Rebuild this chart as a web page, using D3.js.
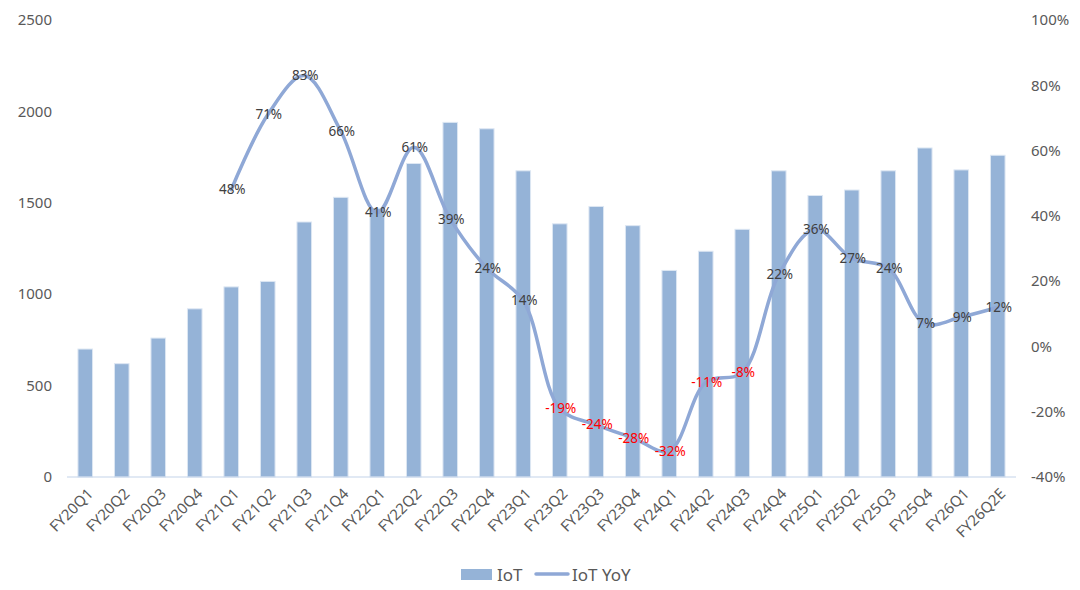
<!DOCTYPE html>
<html>
<head>
<meta charset="utf-8">
<script src="https://cdn.jsdelivr.net/npm/d3@7"></script>
<style>
  body { margin: 0; background: #fff; }
  svg { font-family: "Noto Sans", "Open Sans", sans-serif; }
</style>
</head>
<body>
<div id="chart"></div>
<script>
(function chart() {

    // Data
    const quarters = ["FY20Q1", "FY20Q2", "FY20Q3", "FY20Q4",
        "FY21Q1", "FY21Q2", "FY21Q3", "FY21Q4",
        "FY22Q1", "FY22Q2", "FY22Q3", "FY22Q4",
        "FY23Q1", "FY23Q2", "FY23Q3", "FY23Q4",
        "FY24Q1", "FY24Q2", "FY24Q3", "FY24Q4",
        "FY25Q1", "FY25Q2", "FY25Q3", "FY25Q4",
        "FY26Q1", "FY26Q2E"];
    const iotRevenue = [700, 620, 760, 920,
        1040, 1070, 1395, 1530,
        1470, 1715, 1940, 1905,
        1675, 1385, 1480, 1375,
        1130, 1235, 1355, 1675,
        1540, 1570, 1675, 1800,
        1680, 1760];
    // YoY starts at FY21Q1
    const yoyQuarters = quarters.slice(4);
    const iotYoY = [48, 71, 83, 66,
        41, 61, 39, 24,
        14, -19, -24, -28,
        -32, -11, -8, 22,
        36, 27, 24, 7,
        9, 12];
    const leftTicks = [0, 500, 1000, 1500, 2000, 2500];
    const rightTicks = [-40, -20, 0, 20, 40, 60, 80, 100];

    const WIDTH = 1080;
    const HEIGHT = 590;
    const BAR_COLOR = "#95b3d7";
    const LINE_COLOR = "#8fa8d6";
    const TEXT_COLOR = "#595959";

    const svg = d3.select("#chart").append("svg")
        .attr("width", WIDTH)
        .attr("height", HEIGHT);

    const x = d3.scaleBand()
        .domain(quarters)
        .range([67, 1016])
        .paddingInner(0.6)
        .paddingOuter(0.3);

    const yLeft = d3.scaleLinear().domain([0, 2500]).range([477, 20]);
    const yRight = d3.scaleLinear().domain([-40, 100]).range([477, 20]);

    // left axis labels
    svg.append("g").selectAll("text")
        .data(leftTicks)
        .join("text")
        .attr("x", 52)
        .attr("y", d => yLeft(d))
        .attr("dy", "0.35em")
        .attr("text-anchor", "end")
        .attr("fill", TEXT_COLOR)
        .style("font-size", "15px")
        .text(d => d);

    // right axis labels
    svg.append("g").selectAll("text")
        .data(rightTicks)
        .join("text")
        .attr("x", 1031)
        .attr("y", d => yRight(d))
        .attr("dy", "0.35em")
        .attr("text-anchor", "start")
        .attr("fill", TEXT_COLOR)
        .style("font-size", "15px")
        .text(d => d + "%");

    // bars
    svg.append("g").selectAll("rect")
        .data(quarters)
        .join("rect")
        .attr("x", d => x(d))
        .attr("width", x.bandwidth())
        .attr("y", (d, i) => yLeft(iotRevenue[i]))
        .attr("height", (d, i) => yLeft(0) - yLeft(iotRevenue[i]))
        .attr("fill", BAR_COLOR)
        .attr("stroke", "#dde7f3")
        .attr("stroke-width", 1);

    // baseline
    svg.append("line")
        .attr("x1", 67).attr("x2", 1016)
        .attr("y1", yLeft(0)).attr("y2", yLeft(0))
        .attr("stroke", "#c3d3ea")
        .attr("stroke-width", 1.2);

    // x labels
    const cx = d => x(d) + x.bandwidth() / 2;
    svg.append("g").selectAll("text")
        .data(quarters)
        .join("text")
        .attr("transform", d => `translate(${cx(d) + 5},${yLeft(0) + 14}) rotate(-45)`)
        .attr("text-anchor", "end")
        .attr("dy", "0.35em")
        .attr("fill", TEXT_COLOR)
        .style("font-size", "15px")
        .text(d => d);

    // YoY line
    const line = d3.line()
        .x((d, i) => cx(yoyQuarters[i]))
        .y(d => yRight(d))
        .curve(d3.curveCatmullRom.alpha(0.5));

    svg.append("path")
        .datum(iotYoY)
        .attr("d", line)
        .attr("fill", "none")
        .attr("stroke", LINE_COLOR)
        .attr("stroke-width", 3.5)
        .attr("stroke-linecap", "round");

    // data labels
    svg.append("g").selectAll("text")
        .data(iotYoY)
        .join("text")
        .attr("x", (d, i) => cx(yoyQuarters[i]) + 1)
        .attr("y", d => yRight(d))
        .attr("dy", "0.35em")
        .attr("text-anchor", "middle")
        .attr("fill", d => d < 0 ? "#ff0000" : "#404040")
        .style("font-size", "13.5px")
        .text(d => d + "%");

    // legend
    const legend = svg.append("g");
    legend.append("rect")
        .attr("x", 461).attr("y", 569)
        .attr("width", 31).attr("height", 11)
        .attr("fill", BAR_COLOR);
    legend.append("text")
        .attr("x", 497).attr("y", 575)
        .attr("dy", "0.35em")
        .attr("fill", TEXT_COLOR)
        .style("font-size", "17px")
        .text("IoT");
    legend.append("line")
        .attr("x1", 536).attr("x2", 568)
        .attr("y1", 574).attr("y2", 574)
        .attr("stroke", LINE_COLOR)
        .attr("stroke-width", 3.5)
        .attr("stroke-linecap", "round");
    legend.append("text")
        .attr("x", 572).attr("y", 575)
        .attr("dy", "0.35em")
        .attr("fill", TEXT_COLOR)
        .style("font-size", "17px")
        .text("IoT YoY");

})();
</script>
</body>
</html>
